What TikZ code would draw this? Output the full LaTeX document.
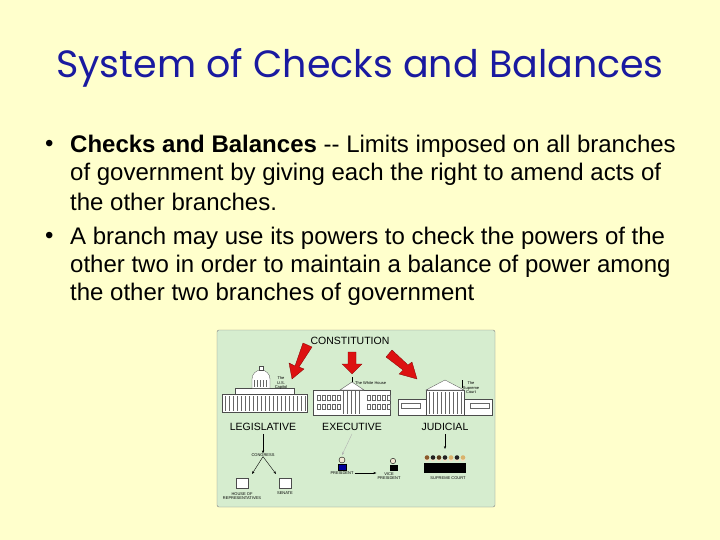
\documentclass[tikz,border=0pt]{standalone}
\usepackage{fontspec}
\setmainfont{Liberation Sans}
\newfontfamily\titlefont{Poppins}
\usetikzlibrary{arrows.meta}
\definecolor{bg}{HTML}{FFFFCC}
\definecolor{ttl}{HTML}{1A1AA0}
\definecolor{pic}{HTML}{D6EDCF}
\definecolor{red1}{HTML}{DD1111}
\definecolor{hairA}{HTML}{8B5A2B}
\definecolor{hairB}{HTML}{222222}
\definecolor{hairC}{HTML}{D9B36C}
\definecolor{hairD}{HTML}{5A3A1A}
\tikzset{
 bul/.style={anchor=west,font=\fontsize{24}{24}\selectfont,inner sep=0pt},
 lab/.style={font=\fontsize{10.5}{10.5}\selectfont,inner sep=0pt},
 tiny/.style={font=\fontsize{4}{4.5}\selectfont,inner sep=0pt,align=center},
 bld/.style={draw=black!70,fill=white,line width=0.3pt},
 bigarrow/.style={draw=red!50!black,fill=red1,line width=0.3pt},
 thin/.style={-{Stealth[length=3pt]},line width=0.4pt}
}
\begin{document}
\begin{tikzpicture}[x=1pt,y=-1pt]
\fill[bg] (0,0) rectangle (720,540);
\useasboundingbox (0,0) rectangle (720,540);
\node[font=\titlefont\fontsize{38}{38}\selectfont,text=ttl] (title) at (360,68) {System of Checks and Balances};
\node[bul] (b1) at (45,146) {•};
\node[bul] (l1) at (70,146) {\textbf{Checks and Balances} {-}{-} Limits imposed on all branches};
\node[bul] (l2) at (70,174) {of government by giving each the right to amend acts of};
\node[bul] (l3) at (70,202) {the other branches.};
\node[bul] (b2) at (45,238) {•};
\node[bul] (l4) at (70,238) {A branch may use its powers to check the powers of the};
\node[bul] (l5) at (70,266) {other two in order to maintain a balance of power among};
\node[bul] (l6) at (70,294) {the other two branches of government};
% picture
\draw[fill=pic,draw=black!50,rounded corners=2pt] (217,330) rectangle (495,507);
\node[lab] (con) at (350,341) {CONSTITUTION};
\draw[bigarrow] (312,347)--(303,343)--(295,366)--(289,363)--(292,379)--(304,369)--(299,367)--cycle;
\draw[bigarrow] (348,352)--(356,352)--(356,364)--(362,364)--(352,374)--(342,364)--(348,364)--cycle;
\draw[bigarrow] (392,350)--(386,357)--(403,370)--(399,374)--(417,379)--(412,362)--(408,365)--cycle;
% capitol
\draw[bld] (222,394) rectangle (307,412);
\draw[bld] (235,388) rectangle (294,394);
\draw[bld] (252,388) -- (252,379) arc[start angle=180,end angle=360,radius=9] -- (270,388);
\draw[bld] (259,370) rectangle (263,366);
\foreach \x in {254,257,...,268}{\draw[black!60,line width=0.3pt] (\x,380) -- (\x,387);}
\foreach \x in {225,229,...,305}{\draw[black!60,line width=0.3pt] (\x,396) -- (\x,411);}
\node[tiny] (cap) at (281,383) {The\\U.S.\\Capitol};
% white house
\draw[bld] (313,390) rectangle (390,415);
\draw[bld] (340,390) -- (352,382) -- (364,390) -- cycle;
\foreach \x in {317,322,...,338,367,372,...,387}{\draw[black!60,line width=0.3pt] (\x,395) rectangle (\x+3,400); \draw[black!60,line width=0.3pt] (\x,404) rectangle (\x+3,409);}
\foreach \x in {343,347,...,361}{\draw[black!60,line width=0.3pt] (\x,391) -- (\x,414);}
\draw (352,382) -- (352,377);
\node[tiny,anchor=west] (wh) at (355,383) {The White House};
% supreme court
\draw[bld] (398,399) rectangle (492,415);
\draw[bld] (426,390) rectangle (464,415);
\draw[bld] (426,390) -- (445,380) -- (464,390) -- cycle;
\foreach \x in {429,433,...,461}{\draw[black!60,line width=0.3pt] (\x,392) -- (\x,414);}
\draw[black!60,line width=0.3pt] (401,403) rectangle (420,408);
\draw[black!60,line width=0.3pt] (470,403) rectangle (489,408);
\draw (462,388) -- (462,380);
\node[tiny] (sc) at (471,388) {The\\Supreme\\Court};
% branch labels
\node[lab] (leg) at (263,427) {LEGISLATIVE};
\node[lab] (exe) at (352,427) {EXECUTIVE};
\node[lab] (jud) at (445,427) {JUDICIAL};
% legislative
\node[tiny] (cong) at (263,455) {CONGRESS};
\draw[thin] (leg.south) ++(0,3) -- (cong.north);
\coordinate (hl) at (252,474);
\coordinate (sl) at (276,474);
\draw[thin] (cong.south) -- (hl);
\draw[thin] (cong.south) -- (sl);
\draw[bld] (236,478) rectangle (248,488);
\draw[bld] (279,478) rectangle (291,488);
\node[tiny] (house) at (242,496) {HOUSE OF\\REPRESENTATIVES};
\node[tiny] (sen) at (285,493) {SENATE};
% executive
\draw[fill=blue!60!black] (338,470) rectangle (346,464);
\draw[fill=hairC!30] (342,460) circle (3);
\node[tiny] (pres) at (342,473) {PRESIDENT};
\draw[fill=black] (390,470) rectangle (397,465);
\draw[fill=hairC!30] (393,461) circle (2.7);
\node[tiny] (vp) at (389,476) {VICE\\PRESIDENT};
\draw[thin] ([xshift=1pt]pres.east) -- ([xshift=-1pt]vp.west |- pres.east);
\draw[thin,black!30] (exe.south) ++(0,3) -- (342,455);
% judicial
\coordinate (jtop) at (445,449);
\draw[thin] (jud.south) ++(0,3) -- (jtop);
\foreach \x/\c in {427/hairA,433/hairB,439/hairD,445/hairB,451/hairC,457/hairB,463/hairC}{
 \fill[black] (\x-2.7,473) rectangle (\x+2.7,463);
 \fill[hairC!40] (\x,459) circle (2.5);
 \fill[\c] (\x,457.5) circle (2.3);
}
\node[tiny] (supc) at (448,478) {SUPREME COURT};
\end{tikzpicture}
\end{document}
